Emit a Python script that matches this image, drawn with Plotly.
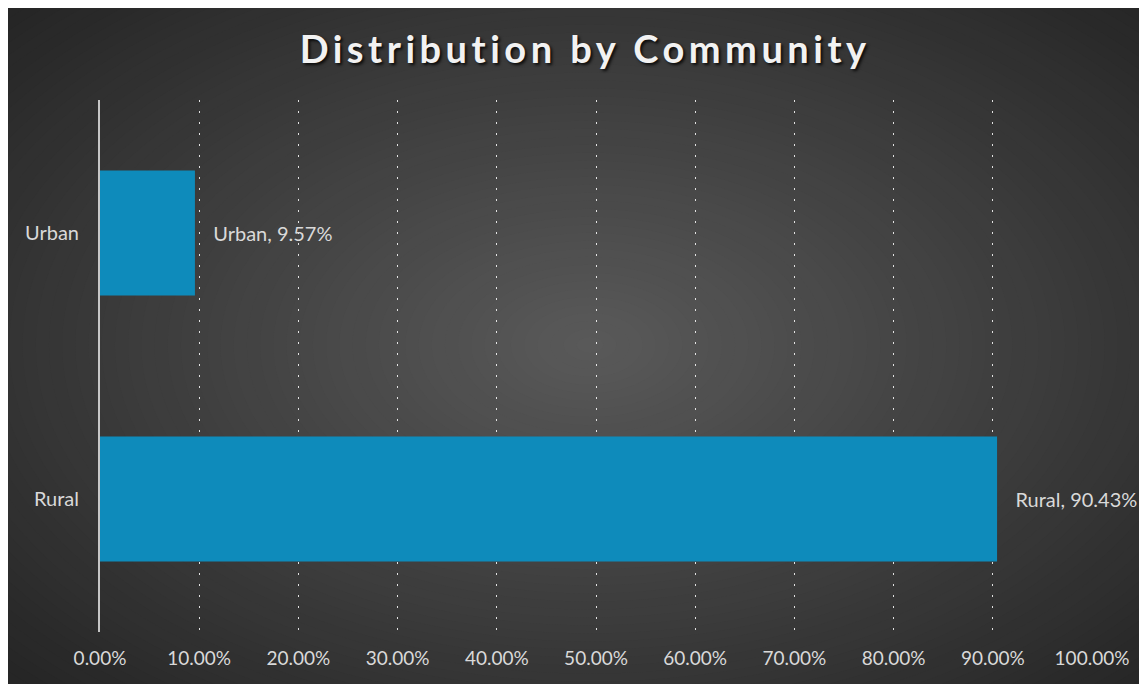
import plotly.graph_objects as go

categories = ["Urban", "Rural"]
shares = [0.0957, 0.9043]
x_tick_vals = [0, 0.1, 0.2, 0.3, 0.4, 0.5, 0.6, 0.7, 0.8, 0.9, 1.0]
x_tick_text = ["0.00%", "10.00%", "20.00%", "30.00%", "40.00%", "50.00%",
               "60.00%", "70.00%", "80.00%", "90.00%", "100.00%"]
title_text = "Distribution by Community"

# page body has an 8px margin, so the figure is sized to fit the window
OFF = 8
W, H = 1147 - OFF, 684 - OFF
L, R, T, B = 100 - OFF, 1147 - 1092, 100 - OFF, 684 - 632
PW, PH = W - L - R, H - T - B

def px(x):
    return (x - OFF - L) / PW

def py(y):
    return 1 - (y - OFF - T) / PH

FONT = "Lato, 'Open Sans', sans-serif"

fig = go.Figure()
fig.add_trace(go.Bar(
    y=categories, x=shares, orientation="h",
    marker=dict(color="#0e8bbb", line=dict(width=0)),
    text=[f"   {c}, {v*100:.2f}%" for c, v in zip(categories, shares)],
    textposition="outside", constraintext="none", cliponaxis=False,
    textfont=dict(color="#d9d9d9", size=20, family=FONT),
    hoverinfo="skip",
))

shapes = []
shapes.append(dict(type="rect", xref="paper", yref="paper", layer="below",
                   x0=px(0), x1=px(1147), y0=py(684), y1=py(0),
                   fillcolor="#262626", line=dict(width=0)))
cx, cy = 590, 345
Rx, Ry = 560 * 1.414, 340 * 1.414
N = 60
c_edge, c_center = 38, 90
for i in range(N):
    t = 1 - i / N
    v = round(c_center + (c_edge - c_center) * t)
    shapes.append(dict(type="circle", xref="paper", yref="paper", layer="below",
                       x0=px(cx - Rx * t), x1=px(cx + Rx * t),
                       y0=py(cy + Ry * t), y1=py(cy - Ry * t),
                       fillcolor=f"rgb({v},{v},{v})", line=dict(width=0)))
# white margin on the right edge
shapes.append(dict(type="rect", xref="paper", yref="paper", layer="below",
                   x0=px(1145), x1=px(1160), y0=py(700), y1=py(-20),
                   fillcolor="white", line=dict(width=0)))

fig.update_layout(
    width=W, height=H,
    margin=dict(l=L, r=R, t=T, b=B),
    paper_bgcolor="#262626", plot_bgcolor="rgba(0,0,0,0)",
    shapes=shapes,
    showlegend=False,
    bargap=0.53,
    title=dict(
        text=f'<span style="letter-spacing:4.5px">{title_text}</span>',
        x=(565 - OFF) / W, xref="paper", xanchor="center",
        y=1 - (50 - OFF) / H, yanchor="middle",
        font=dict(family=FONT, size=38, color="#f2f2f2", weight="bold",
                  shadow="2px 2px 3px rgba(0,0,0,0.8)"),
    ),
    xaxis=dict(
        range=[0, 1], tickvals=x_tick_vals, ticktext=x_tick_text,
        showgrid=True, gridcolor="rgba(255,255,255,0.85)", gridwidth=1,
        griddash="2px,9px", zeroline=False, showline=False,
        tickfont=dict(color="#d9d9d9", size=19, family=FONT),
        ticks="", ticklabelstandoff=13, fixedrange=True,
    ),
    yaxis=dict(
        autorange="reversed", showgrid=False, zeroline=False,
        showline=True, linecolor="rgba(225,225,225,0.85)", linewidth=2,
        tickfont=dict(color="#d9d9d9", size=20, family=FONT),
        ticks="", ticklabelstandoff=15, fixedrange=True,
    ),
)

fig.write_html("out.html")
